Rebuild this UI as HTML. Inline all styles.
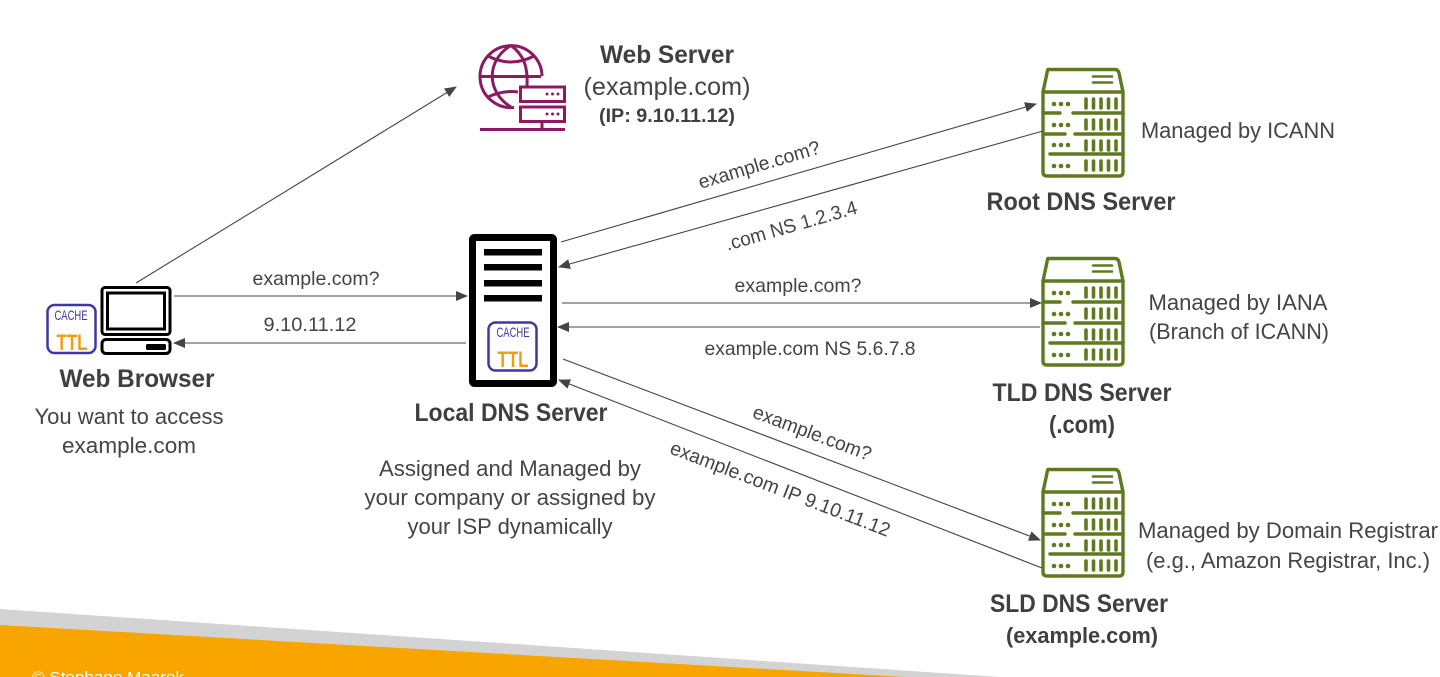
<!DOCTYPE html>
<html><head><meta charset="utf-8"><style>
html,body{margin:0;padding:0;background:#fff;width:1440px;height:677px;overflow:hidden}
svg{display:block}
text{font-family:"Liberation Sans",sans-serif;fill:#444;text-anchor:middle}
.b{font-weight:bold;fill:#3f3f3f}
</style></head><body>
<svg width="1440" height="677" viewBox="0 0 1440 677" xmlns="http://www.w3.org/2000/svg">
<defs>
<marker id="a" markerWidth="13" markerHeight="11" refX="11" refY="5" orient="auto" markerUnits="userSpaceOnUse"><path d="M0 0L12 5L0 10Z" fill="#444"/></marker>
<g id="srv" fill="none" stroke="#5d7a1e" stroke-width="3.4" stroke-linecap="round" stroke-linejoin="round">
<path d="M5 1.5H72Q75 1.5 76 5L80 24V104Q80 108 76 108H4Q0 108 0 104V24L4 5Q4.500 1.500 5 1.500Z"/>
<path d="M0 24H80"/>
<path d="M50 8.500H69M50 14.500H69" stroke-width="2.600"/>
<path d="M0 45H17M30 45H80M0 66H22M32 66H80M7 86H80"/>
<g stroke-width="3.600">
<path d="M43 31v9M50.500 31v9M58 31v9M65.500 31v9M73 31v9"/>
<path d="M43 52v9M50.500 52v9M58 52v9M65.500 52v9M73 52v9"/>
<path d="M43 73v9M50.500 73v9M58 73v9M65.500 73v9M73 73v9"/>
<path d="M43 93v9M50.500 93v9M58 93v9M65.500 93v9M73 93v9"/>
</g>
<g fill="#5d7a1e" stroke="none">
<circle cx="11" cy="36" r="2.300"/><circle cx="18" cy="36" r="2.300"/><circle cx="25" cy="36" r="2.300"/>
<circle cx="11" cy="57" r="2.300"/><circle cx="18" cy="57" r="2.300"/><circle cx="25" cy="57" r="2.300"/>
<circle cx="11" cy="77" r="2.300"/><circle cx="18" cy="77" r="2.300"/><circle cx="25" cy="77" r="2.300"/>
<circle cx="11" cy="98" r="2.300"/><circle cx="18" cy="98" r="2.300"/><circle cx="25" cy="98" r="2.300"/>
</g>
</g>
</defs>

<!-- footer -->
<polygon points="0,609 1000,677 0,677" fill="#d3d3d3"/>
<polygon points="0,625 905,677 0,677" fill="#f8a500"/>
<text x="32" y="682" font-size="15" style="fill:#fff;text-anchor:start" textLength="152" lengthAdjust="spacingAndGlyphs">© Stephane Maarek</text>

<!-- web server icon -->
<g fill="none" stroke="#8c1a63" stroke-width="3">
<path d="M514 107.500A31 31 0 1 1 542 76"/>
<path d="M511 45.500C486 60 486 92 511 107"/>
<path d="M511 45.500C524 55 528 67 527 86"/>
<path d="M480 76.500H541"/>
<path d="M488 56Q511 68 534 56"/>
<path d="M488 97Q503 90 518 92"/>
<rect x="520.500" y="87" width="44" height="14.500"/>
<rect x="520.500" y="107" width="44" height="14.500"/>
<path d="M480 129.500H565M542 122V129"/>
</g>
<g fill="#8c1a63"><circle cx="547" cy="94" r="1.500"/><circle cx="552.500" cy="94" r="1.500"/><circle cx="558" cy="94" r="1.500"/><circle cx="547" cy="114" r="1.500"/><circle cx="552.500" cy="114" r="1.500"/><circle cx="558" cy="114" r="1.500"/></g>
<text class="b" x="667" y="63" font-size="25" textLength="134" lengthAdjust="spacingAndGlyphs">Web Server</text>
<text x="667" y="95" font-size="25" textLength="167" lengthAdjust="spacingAndGlyphs">(example.com)</text>
<text class="b" x="667" y="122" font-size="19" textLength="136" lengthAdjust="spacingAndGlyphs">(IP: 9.10.11.12)</text>

<!-- DNS servers -->
<use href="#srv" x="1043" y="68"/>
<use href="#srv" x="1043" y="257"/>
<use href="#srv" x="1043" y="468"/>
<text x="1238" y="138" font-size="22.500" textLength="194" lengthAdjust="spacingAndGlyphs">Managed by ICANN</text>
<text class="b" x="1081" y="210" font-size="25" textLength="189" lengthAdjust="spacingAndGlyphs">Root DNS Server</text>
<text x="1238" y="310" font-size="22.500" textLength="179" lengthAdjust="spacingAndGlyphs">Managed by IANA</text>
<text x="1239" y="339" font-size="22.500" textLength="180" lengthAdjust="spacingAndGlyphs">(Branch of ICANN)</text>
<text class="b" x="1082" y="401" font-size="25" textLength="179" lengthAdjust="spacingAndGlyphs">TLD DNS Server</text>
<text class="b" x="1082" y="433" font-size="25" textLength="66" lengthAdjust="spacingAndGlyphs">(.com)</text>
<text x="1288" y="538" font-size="22.500" textLength="300" lengthAdjust="spacingAndGlyphs">Managed by Domain Registrar</text>
<text x="1288" y="568" font-size="22.500" textLength="284" lengthAdjust="spacingAndGlyphs">(e.g., Amazon Registrar, Inc.)</text>
<text class="b" x="1079" y="612" font-size="25" textLength="178" lengthAdjust="spacingAndGlyphs">SLD DNS Server</text>
<text class="b" x="1082" y="643" font-size="22.500" textLength="152" lengthAdjust="spacingAndGlyphs">(example.com)</text>

<!-- browser -->
<g fill="none" stroke="#000">
<rect x="102" y="287.500" width="68" height="47" rx="3" stroke-width="3"/>
<rect x="107.500" y="293" width="57" height="36" stroke-width="3"/>
<rect x="102" y="339.500" width="68" height="14" rx="4" stroke-width="3"/>
</g>
<rect x="146" y="344" width="20" height="6" rx="1.500" fill="#000"/>
<rect x="47.500" y="305" width="48" height="48" rx="7" fill="none" stroke="#3f37a3" stroke-width="2.500"/>
<text x="71" y="320" font-size="14" style="fill:#3f37a3" textLength="33" lengthAdjust="spacingAndGlyphs">CACHE</text>
<text x="72" y="350" font-size="22" style="fill:#f39c12;font-weight:bold" textLength="31" lengthAdjust="spacingAndGlyphs">TTL</text>
<text class="b" x="137" y="387" font-size="25" textLength="155" lengthAdjust="spacingAndGlyphs">Web Browser</text>
<text x="129" y="424" font-size="22.500" textLength="189" lengthAdjust="spacingAndGlyphs">You want to access</text>
<text x="129" y="453" font-size="22.500" textLength="134" lengthAdjust="spacingAndGlyphs">example.com</text>

<!-- local dns -->
<rect x="472.500" y="237.500" width="81" height="146" rx="2" fill="none" stroke="#000" stroke-width="7"/>
<g fill="#000">
<rect x="484" y="249" width="58" height="6.500"/>
<rect x="484" y="264" width="58" height="6.500"/>
<rect x="484" y="280" width="58" height="6.500"/>
<rect x="484" y="295" width="58" height="6.500"/>
</g>
<rect x="488.500" y="322.500" width="48" height="48" rx="7" fill="none" stroke="#3f37a3" stroke-width="2.500"/>
<text x="513" y="337" font-size="14" style="fill:#3f37a3" textLength="33" lengthAdjust="spacingAndGlyphs">CACHE</text>
<text x="513" y="367" font-size="22" style="fill:#f39c12;font-weight:bold" textLength="31" lengthAdjust="spacingAndGlyphs">TTL</text>
<text class="b" x="511" y="421" font-size="25" textLength="193" lengthAdjust="spacingAndGlyphs">Local DNS Server</text>
<text x="510" y="476" font-size="22.500" textLength="262" lengthAdjust="spacingAndGlyphs">Assigned and Managed by</text>
<text x="510" y="505" font-size="22.500" textLength="291" lengthAdjust="spacingAndGlyphs">your company or assigned by</text>
<text x="510" y="534" font-size="22.500" textLength="205" lengthAdjust="spacingAndGlyphs">your ISP dynamically</text>

<!-- arrows -->
<g stroke="#444" stroke-width="1.100" fill="none">
<line x1="136" y1="283" x2="456" y2="87" marker-end="url(#a)"/>
<line x1="174" y1="296" x2="467" y2="296" marker-end="url(#a)"/>
<line x1="466" y1="343" x2="174" y2="343" marker-end="url(#a)"/>
<line x1="561" y1="242" x2="1036" y2="104" marker-end="url(#a)"/>
<line x1="1043" y1="131" x2="559" y2="267" marker-end="url(#a)"/>
<line x1="562" y1="303" x2="1041" y2="303" marker-end="url(#a)"/>
<line x1="1040" y1="327" x2="558" y2="327" marker-end="url(#a)"/>
<line x1="563" y1="359" x2="1040" y2="540" marker-end="url(#a)"/>
<line x1="1042" y1="568" x2="559" y2="380" marker-end="url(#a)"/>
</g>

<!-- arrow labels -->
<text x="316" y="285" font-size="19.500" textLength="127" lengthAdjust="spacingAndGlyphs">example.com?</text>
<text x="310" y="331" font-size="19.500" textLength="93" lengthAdjust="spacingAndGlyphs">9.10.11.12</text>
<text x="798" y="292" font-size="19.500" textLength="127" lengthAdjust="spacingAndGlyphs">example.com?</text>
<text x="810" y="355" font-size="19.500" textLength="211" lengthAdjust="spacingAndGlyphs">example.com NS 5.6.7.8</text>
<text transform="translate(761 171) rotate(-16.500)" font-size="19.500" textLength="126" lengthAdjust="spacingAndGlyphs">example.com?</text>
<text transform="translate(793 232) rotate(-16)" font-size="19.500" textLength="136" lengthAdjust="spacingAndGlyphs">.com NS 1.2.3.4</text>
<text transform="translate(810 439) rotate(20.500)" font-size="19.500" textLength="125" lengthAdjust="spacingAndGlyphs">example.com?</text>
<text transform="translate(778 495) rotate(21)" font-size="19.500" textLength="234" lengthAdjust="spacingAndGlyphs">example.com IP 9.10.11.12</text>
</svg>
</body></html>
